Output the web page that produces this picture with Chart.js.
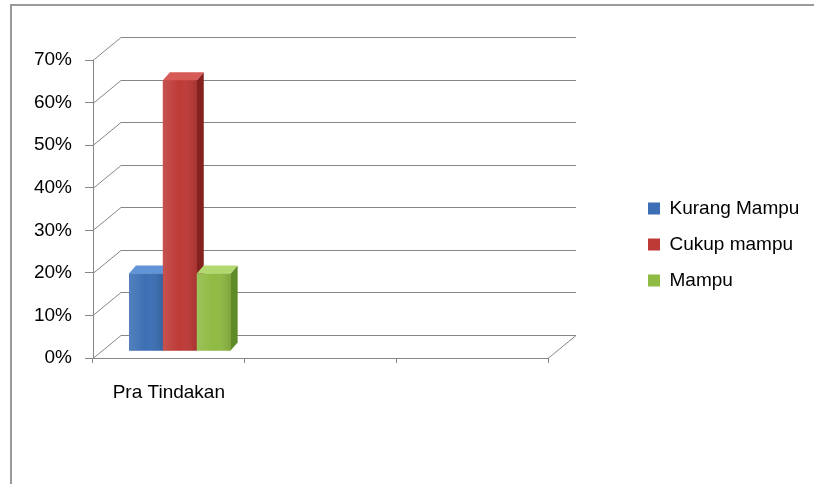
<!DOCTYPE html>
<html>
<head>
<meta charset="utf-8">
<script src="https://cdn.jsdelivr.net/npm/chart.js@4.4.0/dist/chart.umd.min.js"></script>
<style>
  body { margin: 0; background: #fff; }
</style>
</head>
<body>
<canvas id="chart" width="814" height="484"></canvas>
<script>
// Data
var categories = ['Pra Tindakan', '', ''];
var seriesNames = ['Kurang Mampu', 'Cukup mampu', 'Mampu'];
var kurangMampu = [0.182, null, null];
var cukupMampu = [0.636, null, null];
var mampu = [0.182, null, null];
var yTickValues = [0, 0.1, 0.2, 0.3, 0.4, 0.5, 0.6, 0.7];
var yTickLabels = ['0%', '10%', '20%', '30%', '40%', '50%', '60%', '70%'];

// colours: front, side, top
var frontColors = ['#3c6fb4', '#be3a36', '#8fba43'];
var sideColors = ['#28508a', '#85221f', '#5e8a27'];
var topColors = ['#6194d6', '#d65a55', '#b3d870'];
var gridColor = '#868686';
var fontName = "'Liberation Sans', Arial, sans-serif";

// 3d look
var depthX = 28, depthY = -23;
var barShiftX = 11, barShiftY = -7;
var barDepthX = 7, barDepthY = -8;

var ctx = document.getElementById('chart').getContext('2d');

var fake3d = {
    id: 'fake3d',
    beforeDraw: function (chart) {
        // outer frame (left + top edge)
        var c = chart.ctx;
        c.save();
        c.strokeStyle = '#9a9a9a';
        c.lineWidth = 2;
        c.beginPath();
        c.moveTo(11, chart.height);
        c.lineTo(11, 5);
        c.lineTo(chart.width, 5);
        c.stroke();
        c.restore();
    },
    afterLayout: function (chart) {
        // move legend to the right side
        var l = chart.legend;
        var w = l.width, h = l.height;
        l.left = 631;
        l.right = l.left + w;
        l.top = 182;
        l.bottom = l.top + h;
    },
    beforeDatasetsDraw: function (chart) {
        var c = chart.ctx, a = chart.chartArea, y = chart.scales.y;
        c.save();
        c.strokeStyle = gridColor;
        c.lineWidth = 1;
        // back wall gridlines + side wall diagonals
        yTickValues.forEach(function (v) {
            var py = Math.round(y.getPixelForValue(v)) + 0.5;
            c.beginPath();
            c.moveTo(a.left, py);
            c.lineTo(a.left + depthX, py + depthY);
            c.lineTo(a.right + depthX, py + depthY);
            c.stroke();
        });
        // floor right edge
        var p0 = Math.round(y.getPixelForValue(0)) + 0.5;
        c.beginPath();
        c.moveTo(a.right, p0);
        c.lineTo(a.right + depthX, p0 + depthY);
        c.stroke();
        c.restore();

        // bars sit a bit back from the front plane
        c.save();
        c.translate(barShiftX, barShiftY);
    },
    afterDatasetsDraw: function (chart) {
        var c = chart.ctx;
        // redraw left to right so each front face hides the previous side face
        for (var i = 0; i < chart.data.datasets.length; i++) {
            var values = chart.data.datasets[i].data;
            var meta = chart.getDatasetMeta(i);
            meta.data.forEach(function (bar, j) {
                if (values[j] == null) return;
                var left = bar.x - bar.width / 2, right = bar.x + bar.width / 2;
                bar.draw(c);
                // light-to-dark shading on the front
                var g = c.createLinearGradient(left, 0, right, 0);
                g.addColorStop(0, 'rgba(255,255,255,0.12)');
                g.addColorStop(0.5, 'rgba(255,255,255,0)');
                g.addColorStop(1, 'rgba(0,0,0,0.12)');
                c.fillStyle = g;
                c.fillRect(left, bar.y, bar.width, bar.base - bar.y);
                // side face
                c.fillStyle = sideColors[i];
                c.beginPath();
                c.moveTo(right, bar.y);
                c.lineTo(right + barDepthX, bar.y + barDepthY);
                c.lineTo(right + barDepthX, bar.base + barDepthY);
                c.lineTo(right, bar.base);
                c.closePath();
                c.fill();
                // top face
                c.fillStyle = topColors[i];
                c.beginPath();
                c.moveTo(left, bar.y);
                c.lineTo(left + barDepthX, bar.y + barDepthY);
                c.lineTo(right + barDepthX, bar.y + barDepthY);
                c.lineTo(right, bar.y);
                c.closePath();
                c.fill();
            });
        }
        c.restore();
    }
};

var seriesData = [kurangMampu, cukupMampu, mampu];
var datasets = [];
for (var i = 0; i < seriesNames.length; i++) {
    datasets.push({
        label: seriesNames[i],
        data: seriesData[i],
        backgroundColor: frontColors[i],
        borderWidth: 0,
        clip: false,
        categoryPercentage: 0.67,
        barPercentage: 1
    });
}

var myChart = new Chart(ctx, {
    type: 'bar',
    data: {
        labels: categories,
        datasets: datasets
    },
    options: {
        responsive: false,
        animation: false,
        layout: {
            padding: {left: 0, right: 266, top: 60, bottom: 0}
        },
        plugins: {
            legend: {
                position: 'chartArea',
                align: 'start',
                labels: {
                    boxWidth: 12,
                    boxHeight: 12,
                    padding: 17,
                    color: '#000',
                    font: {family: fontName, size: 19}
                }
            },
            tooltip: {enabled: false}
        },
        scales: {
            x: {
                grid: {
                    display: true,
                    drawOnChartArea: false,
                    drawTicks: true,
                    tickLength: 5,
                    color: gridColor
                },
                border: {display: true, color: gridColor},
                ticks: {
                    color: '#000',
                    padding: 18,
                    maxRotation: 0,
                    font: {family: fontName, size: 19}
                },
                afterFit: function (scale) {
                    scale.height = 126;
                }
            },
            y: {
                min: 0,
                max: 0.7,
                grid: {
                    display: true,
                    drawOnChartArea: false,
                    drawTicks: true,
                    tickLength: 8,
                    color: gridColor
                },
                border: {display: true, color: gridColor},
                ticks: {
                    stepSize: 0.1,
                    color: '#000',
                    padding: 13,
                    font: {family: fontName, size: 19},
                    callback: function (value) {
                        var k = Math.round(value * 10);
                        return yTickLabels[k];
                    }
                },
                afterFit: function (scale) {
                    scale.width = 93;
                }
            }
        }
    },
    plugins: [fake3d]
});
</script>
</body>
</html>
